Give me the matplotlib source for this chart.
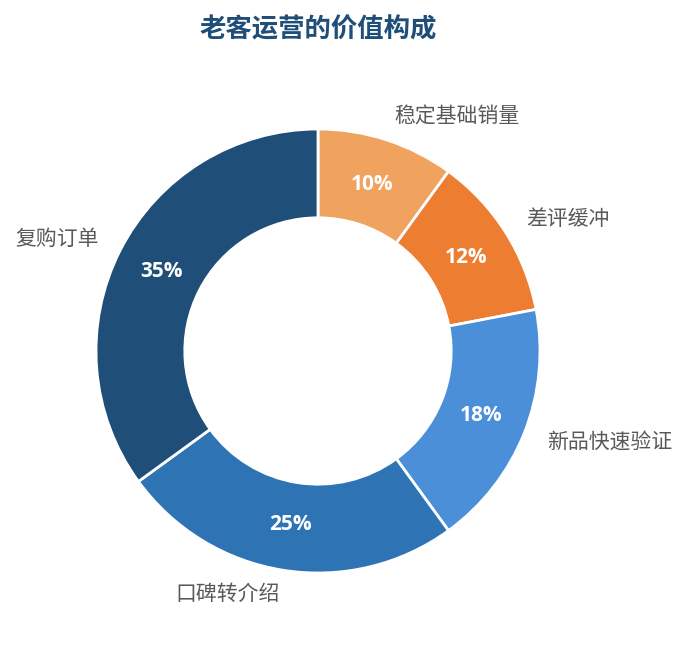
import matplotlib
matplotlib.use("Agg")
import matplotlib.pyplot as plt

plt.rcParams["font.family"] = ["Noto Sans CJK SC", "DejaVu Sans"]

labels = ["稳定基础销量", "差评缓冲", "新品快速验证", "口碑转介绍", "复购订单"]
values = [10, 12, 18, 25, 35]
colors = ["#F0A35E", "#ED7D31", "#4A8FD8", "#2E74B5", "#1F4E79"]

cx, cy, r = 318, 294, 222

fig = plt.figure(figsize=(6.87, 6.45), dpi=100)
ax = fig.add_axes([0, 0, 1, 1])

wedges, texts, autotexts = ax.pie(
    values,
    labels=labels,
    colors=colors,
    startangle=90,
    counterclock=False,
    center=(cx, cy),
    radius=r,
    labeldistance=1.11,
    pctdistance=0.79,
    autopct=lambda p: f"{p:.0f}%",
    wedgeprops=dict(width=r * 0.4, edgecolor="white", linewidth=2),
    textprops=dict(fontsize=15, color="#595959"),
    frame=True,
)
ax.set_xlim(0, 687)
ax.set_ylim(0, 645)
ax.set_aspect("equal")
ax.axis("off")

# labels: align by side relative to the pie centre
for t in texts:
    x, y = t.get_position()
    t.set_ha("left" if x > cx else "right")

for t in autotexts:
    t.set_color("white")
    t.set_fontsize(15)
    t.set_fontweight("bold")
    t.set_family(["Open Sans", "DejaVu Sans"])

ax.text(cx, 615, "老客运营的价值构成", ha="center", va="center",
        fontsize=19, fontweight="bold", color="#1F4E79")

fig.savefig("out.png", dpi=100)
